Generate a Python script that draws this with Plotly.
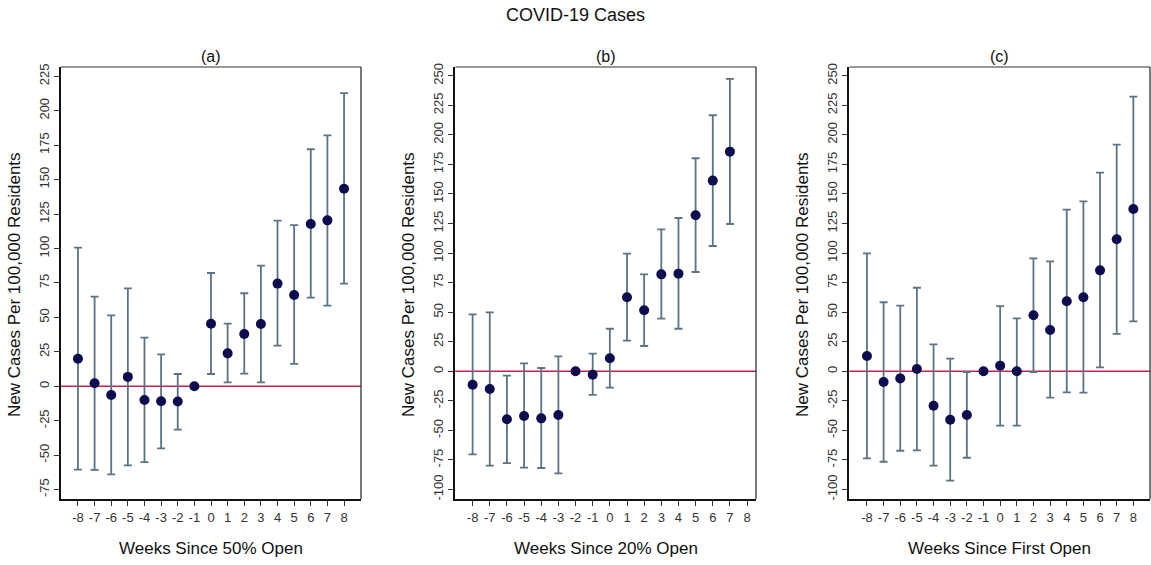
import plotly.graph_objects as go

weeks = list(range(-8, 9))

# Panel (a): Weeks since 50% open
a_est = [20.0, 2.2, -6.3, 6.8, -9.9, -10.9, -11.0, 0.0, 45.4, 23.9, 38.0, 45.2, 74.5, 66.3, 117.8, 120.4, 143.4]
a_hi  = [100.6, 65.0, 51.5, 71.1, 35.3, 23.2, 8.9, 0.0, 82.2, 45.4, 67.5, 87.5, 120.2, 117.0, 172.0, 182.1, 212.8]
a_lo  = [-60.5, -60.7, -63.9, -57.4, -55.0, -45.0, -31.5, 0.0, 8.9, 2.9, 9.2, 2.9, 29.5, 16.2, 64.3, 58.5, 74.5]

# Panel (b): Weeks since 20% open
b_est = [-11.3, -15.0, -40.6, -37.8, -39.8, -37.0, 0.0, -2.8, 11.0, 62.6, 51.6, 82.0, 82.6, 132.0, 161.3, 185.8, None]
b_hi  = [48.2, 49.9, -3.7, 6.8, 2.8, 12.7, 0.0, 14.9, 36.0, 99.5, 82.0, 120.1, 129.7, 180.2, 216.6, 247.3, None]
b_lo  = [-70.2, -79.8, -77.6, -81.5, -81.8, -86.3, 0.0, -20.0, -13.8, 25.9, 21.4, 44.5, 36.0, 84.0, 106.0, 124.6, None]

# Panel (c): Weeks since first open
c_est = [12.9, -9.0, -6.0, 2.0, -29.1, -40.9, -37.0, 0.0, 4.8, 0.0, 47.4, 35.0, 59.2, 62.6, 85.4, 111.7, 137.3]
c_hi  = [99.8, 58.4, 55.5, 70.7, 22.8, 10.7, -0.6, 0.0, 55.2, 44.8, 95.6, 93.0, 136.7, 143.8, 168.0, 191.7, 232.3]
c_lo  = [-73.6, -76.5, -67.2, -66.9, -79.8, -92.5, -73.1, 0.0, -46.0, -46.0, -0.6, -22.3, -17.8, -18.1, 3.4, 31.6, 42.3]

panels = [
    ("(a)", "Weeks Since 50% Open", a_est, a_hi, a_lo, list(range(-75, 226, 25))),
    ("(b)", "Weeks Since 20% Open", b_est, b_hi, b_lo, list(range(-100, 251, 25))),
    ("(c)", "Weeks Since First Open", c_est, c_hi, c_lo, list(range(-100, 251, 25))),
]

W, H = 1151, 565
px_x = [(61, 361), (455.3, 756), (849.3, 1150)]
px_y = (67, 499)
x_ranges = [(-9.02, 9.02), (-9.01, 8.52), (-9.06, 9.0)]
y_ranges = [(-81.8, 231.7), (-108.0, 257.4), (-108.0, 257.4)]
ytitle_x = [14, 408, 802]

BAR = "#5b7386"
DOT = "#0c0c4e"
RED = "#c8234f"
FONT = "Liberation Sans, Arial, sans-serif"

fig = go.Figure()
shapes = []
annotations = []
ydom = [1 - px_y[1] / H, 1 - px_y[0] / H]

for i, (sub, xt, est, hi, lo, yt) in enumerate(panels):
    n = "" if i == 0 else str(i + 1)
    xs, ys, up, dn = [], [], [], []
    for w, e, h, l in zip(weeks, est, hi, lo):
        if e is None:
            continue
        xs.append(w); ys.append(e); up.append(h - e); dn.append(e - l)
    fig.add_trace(go.Scatter(
        x=xs, y=ys, mode="markers", xaxis="x" + n, yaxis="y" + n,
        marker=dict(color=DOT, size=10),
        error_y=dict(type="data", symmetric=False, array=up, arrayminus=dn,
                     color=BAR, thickness=1.8, width=4),
        showlegend=False, hoverinfo="x+y"))
    xd = [px_x[i][0] / W, px_x[i][1] / W]
    fig.layout["xaxis" + n] = dict(
        domain=xd, range=list(x_ranges[i]), anchor="y" + n,
        tickmode="array", tickvals=weeks, ticktext=[str(w) for w in weeks],
        ticks="outside", ticklen=5, tickwidth=1, tickcolor="#333",
        tickfont=dict(size=13, color="#333", family=FONT),
        showline=True, linecolor="#111", linewidth=2, showgrid=False,
        zeroline=False, automargin=False)
    fig.layout["yaxis" + n] = dict(
        domain=ydom, range=list(y_ranges[i]), anchor="x" + n,
        tickmode="array", tickvals=yt, ticktext=[str(v) for v in yt],
        tickangle=-90, ticks="outside", ticklen=5, tickwidth=1, tickcolor="#333",
        tickfont=dict(size=13, color="#333", family=FONT),
        showline=True, linecolor="#111", linewidth=2, showgrid=False,
        zeroline=False, automargin=False)
    xref, yref = "x" + n, "y" + n
    # zero reference line
    shapes.append(dict(type="line", xref=xref + " domain", yref=yref, x0=0, x1=1, y0=0, y1=0,
                       line=dict(color=RED, width=1.6), layer="below"))
    # top and right frame
    shapes.append(dict(type="line", xref=xref + " domain", yref=yref + " domain", x0=0, x1=1, y0=1, y1=1,
                       line=dict(color="#777", width=1.5)))
    shapes.append(dict(type="line", xref=xref + " domain", yref=yref + " domain", x0=1, x1=1, y0=0, y1=1,
                       line=dict(color="#222", width=1.2)))
    cx = (px_x[i][0] + px_x[i][1]) / 2 / W
    annotations.append(dict(text=sub, x=cx, y=1 - 57 / H, xref="paper", yref="paper",
                            showarrow=False, font=dict(size=16, color="#111", family=FONT),
                            xanchor="center", yanchor="middle"))
    annotations.append(dict(text=xt, x=cx, y=1 - 548 / H, xref="paper", yref="paper",
                            showarrow=False, font=dict(size=17, color="#111", family=FONT),
                            xanchor="center", yanchor="middle"))
    annotations.append(dict(text="New Cases Per 100,000 Residents", x=ytitle_x[i] / W,
                            y=1 - 285 / H, xref="paper", yref="paper", textangle=-90,
                            showarrow=False, font=dict(size=17, color="#111", family=FONT),
                            xanchor="center", yanchor="middle"))

annotations.append(dict(text="COVID-19 Cases", x=575 / W, y=1 - 15 / H, xref="paper", yref="paper",
                        showarrow=False, font=dict(size=18, color="#111", family=FONT),
                        xanchor="center", yanchor="middle"))

fig.update_layout(width=W, height=H, margin=dict(l=0, r=0, t=0, b=0),
                  paper_bgcolor="white", plot_bgcolor="white",
                  shapes=shapes, annotations=annotations, showlegend=False)

fig.write_html("out.html", config={"displayModeBar": False},
               post_script="document.body.style.margin='0';document.body.style.overflow='hidden';")
